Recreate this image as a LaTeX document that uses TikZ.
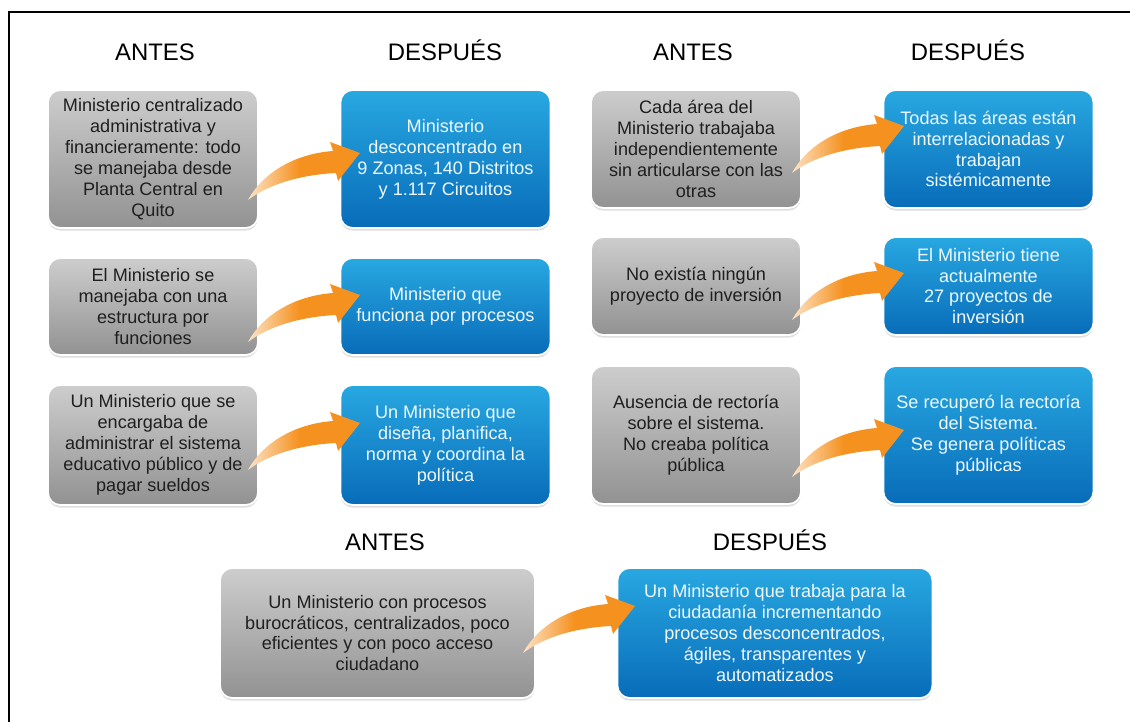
\documentclass[tikz,border=0pt]{standalone}
\usepackage{fontspec}
\setmainfont{Liberation Sans}
\usetikzlibrary{positioning}
\usetikzlibrary{shadows}
\definecolor{grisTop}{RGB}{205,205,205}
\definecolor{grisBot}{RGB}{146,146,146}
\definecolor{azulTop}{RGB}{40,168,225}
\definecolor{azulBot}{RGB}{8,108,185}
\definecolor{naranja}{RGB}{245,145,30}
\pgfdeclarehorizontalshading{fadeorange}{100bp}{%
  color(0bp)=(naranja!25); color(25bp)=(naranja!25);
  color(48bp)=(naranja); color(100bp)=(naranja)}
\tikzset{
  caja/.style={% common look of the boxes
    rounded corners=7pt,
    draw=white,
    line width=1pt,
    align=center,
    minimum width=4.2cm,
    inner sep=2pt,
    font=\fontsize{10.3}{11.9}\selectfont,
    drop shadow={opacity=0.25,shadow xshift=0pt,shadow yshift=-1.5pt}
  },
  antes/.style={caja,top color=grisTop,bottom color=grisBot,text=black!88},
  despues/.style={caja,top color=azulTop,bottom color=azulBot,text=white!92!azulTop},
  titulo/.style={font=\fontsize{13.6}{16}\selectfont,anchor=base},
  swoosh/.style={shading=fadeorange,draw=none}
}
% curved orange arrow, tail at #1
\newcommand{\swoosh}[1]{%
  \shade[swoosh,shift={(#1)}] (0,0) .. controls (14,-26) and (45,-46) .. (85,-49)
    -- (82,-58) -- (112,-47) -- (90,-19) -- (88,-27)
    .. controls (50,-25) and (20,-15) .. (0,0) -- cycle;}

\begin{document}
\begin{tikzpicture}[x=0.02cm,y=-0.02cm,node distance=5.85cm,on grid]
  \useasboundingbox (0,0) rectangle (1130,722);
  \draw[line width=0.9pt] (1131,12) -- (9,12) -- (9,723);

  % headers
  \node[titulo] (h1) at (155,61) {ANTES};
  \node[titulo] (h2) at (445,61) {DESPUÉS};
  \node[titulo] (h3) at (693,61) {ANTES};
  \node[titulo] (h4) at (968,61) {DESPUÉS};
  \node[titulo] (h5) at (385,551) {ANTES};
  \node[titulo] (h6) at (770,551) {DESPUÉS};

  % left column
  \node[antes,minimum height=2.76cm] (g1) at (153,159)
    {Ministerio centralizado\\administrativa y\\financieramente: todo\\se manejaba desde\\Planta Central en\\Quito};
  \node[despues,minimum height=2.76cm,right=of g1] (b1)
    {Ministerio\\desconcentrado en\\9 Zonas, 140 Distritos\\y 1.117 Circuitos};
  \node[antes,minimum height=1.94cm] (g2) at (153,306.5)
    {El Ministerio se\\manejaba con una\\estructura por\\funciones};
  \node[despues,minimum height=1.94cm,right=of g2] (b2)
    {Ministerio que\\funciona por procesos};
  \node[antes,minimum height=2.4cm] (g3) at (153,445)
    {Un Ministerio que se\\encargaba de\\administrar el sistema\\educativo público y de\\pagar sueldos};
  \node[despues,minimum height=2.4cm,right=of g3] (b3)
    {Un Ministerio que\\diseña, planifica,\\norma y coordina la\\política};

  % right column
  \node[antes,minimum height=2.36cm] (g4) at (696,149)
    {Cada área del\\Ministerio trabajaba\\independientemente\\sin articularse con las\\otras};
  \node[despues,minimum height=2.36cm,right=of g4] (b4)
    {Todas las áreas están\\interrelacionadas y\\trabajan\\sistémicamente};
  \node[antes,minimum height=1.96cm] (g5) at (696,286)
    {No existía ningún\\proyecto de inversión};
  \node[despues,minimum height=1.96cm,right=of g5] (b5)
    {El Ministerio tiene\\actualmente\\27 proyectos de\\inversión};
  \node[antes,minimum height=2.76cm] (g6) at (696,435)
    {Ausencia de rectoría\\sobre el sistema.\\No creaba política\\pública};
  \node[despues,minimum height=2.76cm,right=of g6] (b6)
    {Se recuperó la rectoría\\del Sistema.\\Se genera políticas\\públicas};

  % bottom pair
  \node[antes,minimum width=6.3cm,minimum height=2.6cm] (g7) at (377.5,633)
    {Un Ministerio con procesos\\burocráticos, centralizados, poco\\eficientes y con poco acceso\\ciudadano};
  \node[despues,minimum width=6.3cm,minimum height=2.6cm,right=7.95cm of g7] (b7)
    {Un Ministerio que trabaja para la\\ciudadanía incrementando\\procesos desconcentrados,\\ágiles, transparentes y\\automatizados};

  % arrows
  \coordinate (a1) at (248,200);
  \coordinate (a2) at (248,342);
  \coordinate (a3) at (248,470);
  \coordinate (a4) at (792,173);
  \coordinate (a5) at (792,320);
  \coordinate (a6) at (792,477);
  \coordinate (a7) at (523,653);
  \foreach \t in {a1,a2,a3,a4,a5,a6,a7}
    \swoosh{\t};
\end{tikzpicture}
\end{document}
